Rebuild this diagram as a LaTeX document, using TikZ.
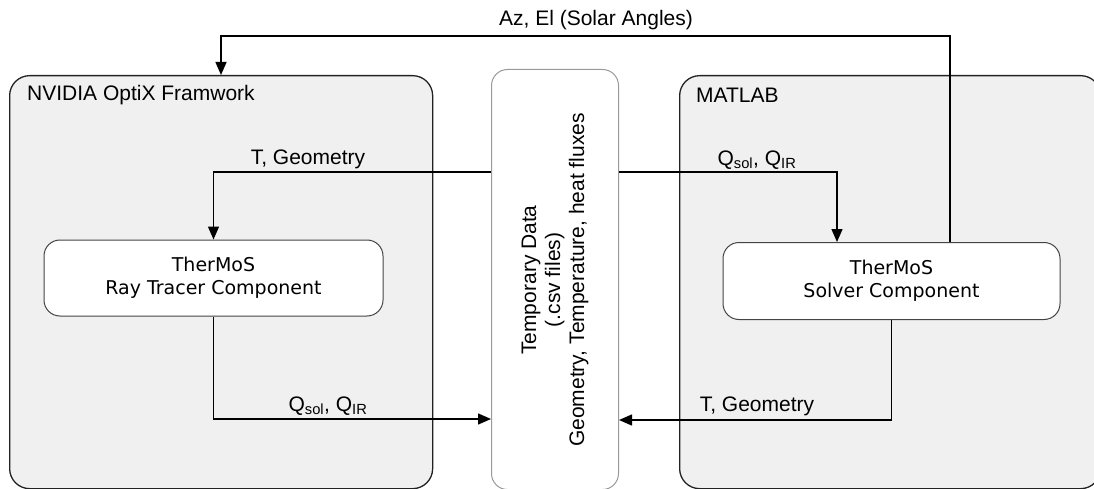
\documentclass[tikz,border=0pt]{standalone}
\usepackage{fontspec}
\setmainfont{Liberation Sans}
\newfontfamily\compfont{DejaVu Sans}
\usetikzlibrary{arrows.meta}
\definecolor{framefill}{HTML}{F0F0F0}
\definecolor{framedraw}{HTML}{222222}
\definecolor{compdraw}{HTML}{444444}
\definecolor{datadraw}{HTML}{9A9A9A}
\begin{document}
\begin{tikzpicture}[x=1pt,y=-1pt,
  framebox/.style={draw=framedraw, fill=framefill, line width=1.3pt,
    rounded corners=20pt, anchor=north west, inner sep=0pt},
  compbox/.style={draw=compdraw, fill=white, line width=1pt,
    rounded corners=16pt, align=center, inner sep=0pt,
    font=\compfont\fontsize{19}{23}\selectfont},
  databox/.style={draw=datadraw, fill=white, line width=1pt,
    rounded corners=16pt, anchor=north west, inner sep=0pt},
  lbl/.style={font=\fontsize{21}{24}\selectfont, inner sep=0pt},
  flow/.style={draw=black, line width=1.4pt,
    -{Triangle[length=13pt,width=11pt]}},
  plain/.style={draw=black, line width=1.4pt}]
\useasboundingbox (0,0) rectangle (1094,489);

% framework containers
\node[framebox, minimum width=423pt, minimum height=413pt] (optix) at (9,75) {};
\node[framebox, minimum width=421pt, minimum height=413pt] (matlab) at (679,75) {};
\node[lbl, anchor=west] (optixlbl) at (27,95) {NVIDIA OptiX Framwork};
\node[lbl, anchor=west] (matlablbl) at (696,95) {MATLAB};

% shared temporary data store
\node[databox, minimum width=127pt, minimum height=420pt] (data) at (491,69) {};
\node[lbl, rotate=90, align=center, font=\fontsize{21}{24}\selectfont]
  (datatxt) at (555,280) {Temporary Data\\(.csv files)\\Geometry, Temperature, heat fluxes};

% components
\node[compbox, minimum width=339pt, minimum height=76pt] (rt) at (213.5,278)
  {TherMoS\\Ray Tracer Component};
\node[compbox, minimum width=337pt, minimum height=77pt] (sv) at (891.5,281)
  {TherMoS\\Solver Component};

% solar angles fed back to the ray tracer framework
\draw[flow] (sv.north -| 950,0) -- (950,36) -| (optix.north -| 221,0);
\node[lbl] (anglbl) at (596,20) {Az, El (Solar Angles)};

% data exchange through the temporary files
\draw[flow] (data.west |- 0,172) -| (rt.north);
\node[lbl] (tg1) at (308,159) {T, Geometry};

\draw[flow] (data.east |- 0,172) -| (sv.north -| 837,0);
\node[lbl] (q1) at (757,160) {Q\textsubscript{sol}, Q\textsubscript{IR}};

\draw[flow] (rt.south) |- (data.west |- 0,419);
\node[lbl] (q2) at (328,406) {Q\textsubscript{sol}, Q\textsubscript{IR}};

\draw[flow] (sv.south) |- (data.east |- 0,420);
\node[lbl] (tg2) at (757,406) {T, Geometry};
\end{tikzpicture}
\end{document}
